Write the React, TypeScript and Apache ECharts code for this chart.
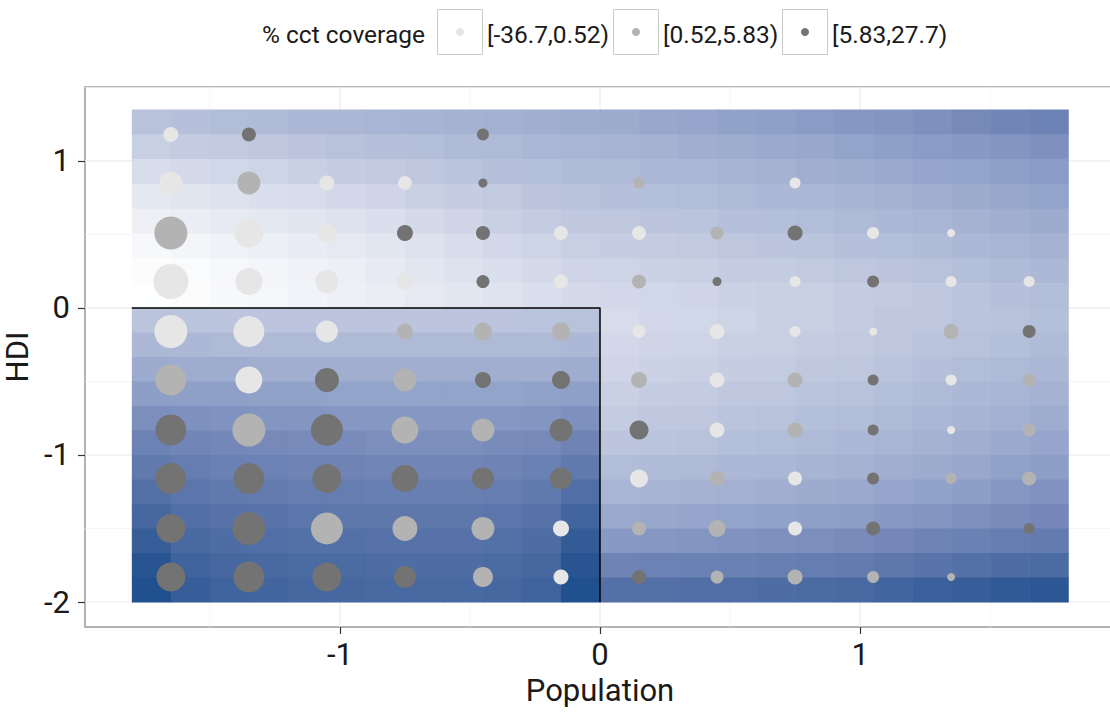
import * as echarts from "echarts";
import { useEffect, useRef } from "react";

// point grid
const POPULATION = [-1.65, -1.35, -1.05, -0.75, -0.45, -0.15, 0.15, 0.45, 0.75, 1.05, 1.35, 1.65];
const HDI = [1.18, 0.85, 0.51, 0.18, -0.16, -0.49, -0.83, -1.16, -1.5, -1.83];

// point weight (0 = no point), one row per HDI value
const WEIGHT = [
  [15, 14, 0, 0, 12, 0, 0, 0, 0, 0, 0, 0],
  [23, 23, 15, 14, 9, 0, 11, 0, 11, 0, 0, 0],
  [33, 29, 19, 16, 14, 14, 14, 13, 15, 12, 8, 0],
  [35, 27, 23, 17, 13, 14, 14, 9, 11, 12, 11, 11],
  [33, 31, 22, 16, 18, 18, 13, 15, 11, 8, 15, 13],
  [31, 27, 24, 23, 16, 18, 16, 15, 15, 11, 11, 13],
  [31, 33, 32, 27, 23, 23, 19, 15, 15, 11, 8, 13],
  [31, 31, 29, 27, 22, 22, 18, 15, 14, 12, 11, 14],
  [29, 33, 32, 25, 23, 16, 14, 17, 14, 14, 0, 11],
  [29, 31, 29, 22, 20, 15, 14, 13, 15, 12, 8, 0],
];

// coverage bin index (-1 = no point)
const COVERAGE_BIN = [
  [0, 2, -1, -1, 2, -1, -1, -1, -1, -1, -1, -1],
  [0, 1, 0, 0, 2, -1, 1, -1, 0, -1, -1, -1],
  [1, 0, 0, 2, 2, 0, 0, 1, 2, 0, 0, -1],
  [0, 0, 0, 0, 2, 0, 1, 2, 0, 2, 0, 0],
  [0, 0, 0, 1, 1, 1, 0, 0, 0, 0, 1, 2],
  [1, 0, 2, 1, 2, 2, 1, 0, 1, 2, 0, 1],
  [2, 1, 2, 1, 1, 2, 2, 0, 1, 2, 0, 1],
  [2, 2, 2, 2, 2, 2, 0, 1, 0, 2, 1, 1],
  [2, 2, 1, 1, 1, 0, 1, 1, 0, 2, -1, 2],
  [2, 2, 2, 2, 1, 0, 2, 1, 1, 1, 1, -1],
];

const BIN_LABELS = ["[-36.7,0.52)", "[0.52,5.83)", "[5.83,27.7)"];
const BIN_COLORS = ["#e6e6e6", "#b3b3b3", "#737373"];

// background surface, extent and values (0 = white .. 100 = dark blue)
const RASTER_X = [-1.8, 1.8];
const UPPER_Y = [0, 1.35];
const LOWER_Y = [-2, 0];

const UPPER = [
  [40, 41, 43, 44, 46, 47, 48, 49, 50, 51, 52, 53, 54, 56, 57, 59, 60, 62, 64, 65, 67, 70, 72, 74],
  [32, 34, 35, 37, 38, 40, 41, 42, 44, 45, 47, 48, 49, 50, 52, 53, 55, 56, 58, 60, 62, 63, 65, 67],
  [23, 25, 27, 29, 31, 33, 35, 37, 39, 41, 42, 44, 45, 46, 47, 49, 50, 52, 53, 55, 57, 58, 60, 62],
  [16, 18, 20, 22, 24, 26, 28, 31, 33, 35, 38, 40, 41, 42, 43, 45, 46, 47, 49, 50, 52, 54, 56, 58],
  [10, 12, 14, 16, 18, 20, 22, 25, 28, 31, 34, 36, 37, 38, 39, 41, 42, 43, 45, 46, 48, 50, 52, 54],
  [5, 7, 9, 11, 13, 15, 17, 20, 23, 26, 29, 32, 33, 34, 35, 37, 38, 39, 41, 42, 44, 46, 48, 50],
  [2, 3, 5, 7, 9, 11, 14, 17, 20, 22, 25, 28, 29, 30, 31, 33, 34, 35, 37, 38, 40, 42, 44, 46],
  [1, 2, 4, 6, 8, 10, 12, 15, 17, 19, 22, 25, 26, 27, 28, 30, 31, 32, 34, 35, 37, 39, 41, 43],
];

const LOWER = [
  [39, 39, 38, 38, 38, 38, 38, 38, 38, 38, 39, 40, 24, 26, 27, 29, 31, 32, 34, 36, 37, 39, 40, 42],
  [46, 46, 45, 45, 45, 45, 45, 45, 45, 45, 45, 46, 26, 28, 29, 31, 32, 34, 35, 37, 39, 40, 42, 44],
  [54, 53, 53, 52, 52, 52, 52, 52, 52, 52, 52, 53, 28, 30, 31, 33, 34, 36, 37, 39, 41, 43, 45, 47],
  [61, 60, 60, 59, 59, 58, 58, 58, 58, 58, 59, 60, 31, 33, 34, 36, 37, 39, 40, 42, 44, 46, 48, 50],
  [68, 67, 66, 65, 65, 64, 64, 64, 64, 64, 65, 67, 34, 36, 37, 39, 40, 42, 43, 45, 47, 49, 51, 53],
  [74, 72, 71, 70, 69, 69, 68, 68, 68, 69, 70, 73, 38, 39, 40, 42, 43, 45, 46, 48, 50, 52, 55, 57],
  [79, 77, 75, 74, 73, 73, 72, 72, 72, 73, 75, 79, 43, 44, 45, 46, 47, 49, 50, 52, 54, 56, 59, 61],
  [84, 81, 79, 78, 77, 77, 76, 76, 76, 77, 79, 85, 48, 49, 50, 51, 52, 54, 55, 57, 59, 61, 64, 66],
  [89, 85, 83, 82, 81, 80, 80, 80, 80, 81, 83, 90, 55, 56, 57, 58, 59, 60, 61, 63, 65, 67, 69, 71],
  [93, 88, 86, 85, 84, 84, 83, 83, 83, 84, 86, 94, 63, 64, 65, 66, 67, 68, 69, 71, 73, 75, 77, 78],
  [97, 91, 89, 88, 87, 87, 86, 86, 86, 87, 89, 97, 73, 74, 75, 75, 76, 77, 78, 80, 82, 84, 86, 87],
  [99, 93, 91, 90, 89, 89, 88, 88, 88, 89, 91, 99, 84, 84, 85, 85, 86, 87, 88, 90, 92, 93, 95, 96],
];

const RAMP = [
  "#ffffff", "#eef0f6", "#dde2ee", "#cbd2e5", "#b8c2db", "#a5b2d2",
  "#8fa0c8", "#7689b9", "#5e78ac", "#43659f", "#1c4e8c",
];

// outlined region (top and right edges)
const REGION_EDGE = [[-1.8, 0], [0, 0], [0, -2]];

// axes
const X_RANGE = [-1.98, 1.98];
const Y_RANGE = [-2.17, 1.503];
const X_TICKS = [-1, 0, 1];
const Y_TICKS = [-2, -1, 0, 1];
const X_MINOR = [-1.5, -0.5, 0.5, 1.5];
const Y_MINOR = [-1.5, -0.5, 0.5, 1.5];

function rasterCells(rows: number[][], yLo: number, yHi: number) {
  const nC = rows[0].length;
  const cw = (RASTER_X[1] - RASTER_X[0]) / nC;
  const rh = (yHi - yLo) / rows.length;
  return rows.flatMap((row, r) =>
    row.map((v, c) => [
      RASTER_X[0] + c * cw,
      RASTER_X[0] + (c + 1) * cw,
      yHi - (r + 1) * rh,
      yHi - r * rh,
      v,
    ]),
  );
}

export default function App() {
  const ref = useRef<HTMLDivElement | null>(null);

  useEffect(() => {
    if (!ref.current) return;
    const chart = echarts.init(ref.current, null, { renderer: "svg" });

    const cells = [
      ...rasterCells(UPPER, UPPER_Y[0], UPPER_Y[1]),
      ...rasterCells(LOWER, LOWER_Y[0], LOWER_Y[1]),
    ];

    const gridLines = [
      ...X_TICKS.map((v) => [v, 0, 0, 1]),
      ...X_MINOR.map((v) => [v, 0, 0, 0]),
      ...Y_TICKS.map((v) => [0, v, 1, 1]),
      ...Y_MINOR.map((v) => [0, v, 1, 0]),
    ];

    const pointSeries = BIN_LABELS.map((label, bin) => {
      const data: number[][] = [];
      HDI.forEach((y, r) =>
        POPULATION.forEach((x, c) => {
          if (COVERAGE_BIN[r][c] === bin && WEIGHT[r][c] > 0) {
            data.push([x, y, WEIGHT[r][c]]);
          }
        }),
      );
      return {
        name: label,
        type: "scatter" as const,
        z: 5,
        data,
        symbol: "circle",
        symbolSize: (v: number[]) => v[2],
        itemStyle: { color: BIN_COLORS[bin], opacity: 1 },
        silent: true,
      };
    });

    const textFont = { fontFamily: "Roboto", color: "#1a1a1a" };
    const legendFont = "24.5px Roboto";

    const legendGraphics: any[] = [
      {
        type: "text",
        x: 262,
        y: 34,
        style: { text: "% cct coverage", font: legendFont, fill: "#1a1a1a", verticalAlign: "middle" },
      },
    ];
    const boxX = [437, 613, 782];
    BIN_LABELS.forEach((label, i) => {
      legendGraphics.push(
        {
          type: "rect",
          shape: { x: boxX[i] + 0.5, y: 9.5, width: 45, height: 45 },
          style: { fill: "#ffffff", stroke: "#c8c8c8", lineWidth: 1 },
        },
        {
          type: "circle",
          shape: { cx: boxX[i] + 23, cy: 32, r: 4 },
          style: { fill: BIN_COLORS[i] },
        },
        {
          type: "text",
          x: boxX[i] + 50,
          y: 34,
          style: { text: label, font: legendFont, fill: "#1a1a1a", verticalAlign: "middle" },
        },
      );
    });

    chart.setOption({
      animation: false,
      backgroundColor: "#ffffff",
      grid: {
        left: 85,
        right: -5,
        top: 87,
        bottom: 86,
        outerBoundsMode: "none",
        containLabel: false,
        show: true,
        backgroundColor: "#ffffff",
        borderColor: "#9a9a9a",
        borderWidth: 1.5,
      },
      xAxis: {
        type: "value",
        min: X_RANGE[0],
        max: X_RANGE[1],
        name: "Population",
        nameLocation: "middle",
        nameGap: 44,
        nameTextStyle: { ...textFont, fontSize: 31 },
        axisLine: { show: false, onZero: false },
        axisTick: {
          show: true,
          customValues: X_TICKS,
          length: 7,
          lineStyle: { color: "#333333", width: 1.2 },
        },
        axisLabel: {
          customValues: X_TICKS,
          ...textFont,
          fontSize: 31,
          margin: 12,
          formatter: (v: number) => String(v),
        },
        splitLine: { show: false },
      },
      yAxis: {
        type: "value",
        min: Y_RANGE[0],
        max: Y_RANGE[1],
        name: "HDI",
        nameLocation: "middle",
        nameGap: 48,
        nameTextStyle: { ...textFont, fontSize: 31 },
        axisLine: { show: false, onZero: false },
        axisTick: {
          show: true,
          customValues: Y_TICKS,
          length: 7,
          lineStyle: { color: "#333333", width: 1.2 },
        },
        axisLabel: {
          customValues: Y_TICKS,
          ...textFont,
          fontSize: 31,
          margin: 15,
          formatter: (v: number) => String(v),
        },
        splitLine: { show: false },
      },
      visualMap: {
        show: false,
        seriesIndex: 1,
        dimension: 4,
        min: 0,
        max: 100,
        inRange: { color: RAMP },
      },
      graphic: legendGraphics,
      series: [
        {
          type: "custom",
          z: 1,
          silent: true,
          data: gridLines,
          renderItem: (_params: any, api: any) => {
            const vertical = api.value(2) === 0;
            const major = api.value(3) === 1;
            const p0 = vertical
              ? api.coord([api.value(0), Y_RANGE[0]])
              : api.coord([X_RANGE[0], api.value(1)]);
            const p1 = vertical
              ? api.coord([api.value(0), Y_RANGE[1]])
              : api.coord([X_RANGE[1], api.value(1)]);
            return {
              type: "line",
              shape: { x1: p0[0], y1: p0[1], x2: p1[0], y2: p1[1] },
              style: {
                stroke: major ? "#ebebeb" : "#f4f4f4",
                lineWidth: major ? 1.2 : 0.8,
              },
            };
          },
        },
        {
          type: "custom",
          z: 2,
          silent: true,
          data: cells,
          encode: { x: [0, 1], y: [2, 3] },
          renderItem: (_params: any, api: any) => {
            const p0 = api.coord([api.value(0), api.value(3)]);
            const p1 = api.coord([api.value(1), api.value(2)]);
            return {
              type: "rect",
              shape: {
                x: p0[0],
                y: p0[1],
                width: p1[0] - p0[0] + 0.6,
                height: p1[1] - p0[1] + 0.6,
              },
              style: { fill: api.visual("color") },
            };
          },
        },
        {
          type: "line",
          z: 3,
          silent: true,
          data: REGION_EDGE,
          symbol: "none",
          lineStyle: { color: "#000000", width: 1.5 },
        },
        ...pointSeries,
      ],
    });

    return () => chart.dispose();
  }, []);

  return (
    <div
      ref={ref}
      style={{ position: "fixed", left: 0, top: 0, width: 1110, height: 713, background: "#ffffff" }}
    />
  );
}
